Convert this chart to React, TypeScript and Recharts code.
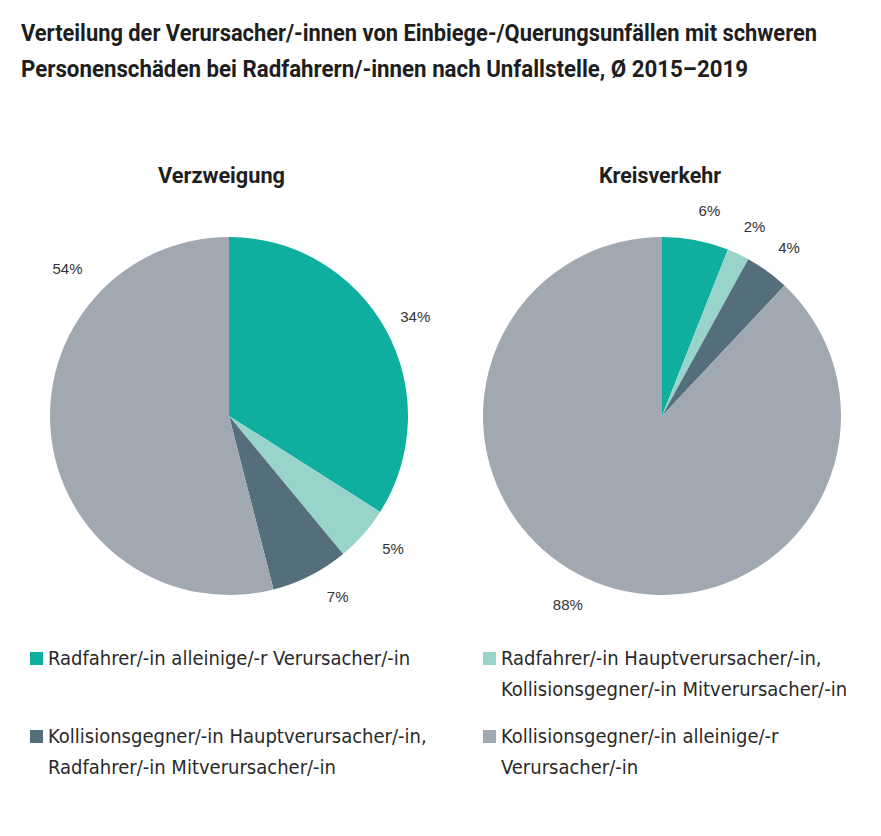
import React from 'react';
import { PieChart, Pie, Cell } from 'recharts';

const categories = [
  'Radfahrer/-in alleinige/-r Verursacher/-in',
  'Radfahrer/-in Hauptverursacher/-in, Kollisionsgegner/-in Mitverursacher/-in',
  'Kollisionsgegner/-in Hauptverursacher/-in, Radfahrer/-in Mitverursacher/-in',
  'Kollisionsgegner/-in alleinige/-r Verursacher/-in',
];
const legendLines = [
  ['Radfahrer/-in alleinige/-r Verursacher/-in'],
  ['Radfahrer/-in Hauptverursacher/-in,', 'Kollisionsgegner/-in Mitverursacher/-in'],
  ['Kollisionsgegner/-in Hauptverursacher/-in,', 'Radfahrer/-in Mitverursacher/-in'],
  ['Kollisionsgegner/-in alleinige/-r', 'Verursacher/-in'],
];
const verzweigungValues = [34, 5, 7, 54];
const kreisverkehrValues = [6, 2, 4, 88];
const colors = ['#10ae9f', '#98d4ca', '#546e7b', '#a0a9b1'];

const titleLines = [
  'Verteilung der Verursacher/-innen von Einbiege-/Querungsunfällen mit schweren',
  'Personenschäden bei Radfahrern/-innen nach Unfallstelle, Ø 2015–2019',
];
const pieTitles = ['Verzweigung', 'Kreisverkehr'];

const verzData = categories.map((name, i) => ({ name, value: verzweigungValues[i] }));
const kreisData = categories.map((name, i) => ({ name, value: kreisverkehrValues[i] }));

// label placement tweaks (style, not data)
const verzLabelAngles: Record<number, number> = { 0: 28, 1: -39, 2: -59, 3: 137.5 };
const kreisLabelAngles: Record<number, number> = { 0: 77, 1: 64, 2: 53, 3: -116.5 };
const verzLabelExtra: Record<number, number> = { 3: 40 };

const RADIAN = Math.PI / 180;

const makeLabel = (angles: Record<number, number>, extra: Record<number, number>) => (props: any) => {
  const { cx, cy, midAngle, outerRadius, value, index } = props;
  const ang = angles[index] !== undefined ? angles[index] : midAngle;
  const r = outerRadius + (extra[index] !== undefined ? extra[index] : 32);
  const x = cx + r * Math.cos(-ang * RADIAN);
  const y = cy + r * Math.sin(-ang * RADIAN);
  return (
    <text
      x={x}
      y={y}
      textAnchor="middle"
      dominantBaseline="central"
      fill="#333"
      fontSize={15}
      fontFamily='"Liberation Sans", Arial, sans-serif'
    >
      {value}%
    </text>
  );
};

export default function App() {
  return (
    <div
      style={{
        position: 'absolute',
        left: 0,
        top: 0,
        width: 881,
        height: 836,
        background: '#fff',
        fontFamily: '"DejaVu Sans Condensed", "DejaVu Sans", sans-serif',
        color: '#222',
      }}
    >
      <svg width={881} height={200} style={{ position: 'absolute', left: 0, top: 0 }}>
        <g fontFamily="Roboto, 'Liberation Sans', sans-serif" fontWeight={700} fill="#1e1e1e">
          <text x={21} y={41} fontSize={23} textLength={796} lengthAdjust="spacingAndGlyphs">
            {titleLines[0]}
          </text>
          <text x={21} y={77} fontSize={23} textLength={727} lengthAdjust="spacingAndGlyphs">
            {titleLines[1]}
          </text>
          <text x={158} y={183} fontSize={22} textLength={127} lengthAdjust="spacingAndGlyphs">
            {pieTitles[0]}
          </text>
          <text x={599} y={183} fontSize={22} textLength={122} lengthAdjust="spacingAndGlyphs">
            {pieTitles[1]}
          </text>
        </g>
      </svg>
      <div style={{ position: 'absolute', left: 0, top: 0 }}>
        <PieChart width={881} height={640} margin={{ top: 0, right: 0, bottom: 0, left: 0 }}>
          <Pie
            data={verzData}
            dataKey="value"
            nameKey="name"
            cx={229}
            cy={416}
            outerRadius={179}
            startAngle={90}
            endAngle={-270}
            stroke="none"
            isAnimationActive={false}
            labelLine={false}
            label={makeLabel(verzLabelAngles, verzLabelExtra)}
          >
            {verzData.map((d, i) => (
              <Cell key={d.name} fill={colors[i]} />
            ))}
          </Pie>
          <Pie
            data={kreisData}
            dataKey="value"
            nameKey="name"
            cx={662}
            cy={416}
            outerRadius={179}
            startAngle={90}
            endAngle={-270}
            stroke="none"
            isAnimationActive={false}
            labelLine={false}
            label={makeLabel(kreisLabelAngles, {})}
          >
            {kreisData.map((d, i) => (
              <Cell key={d.name} fill={colors[i]} />
            ))}
          </Pie>
        </PieChart>
      </div>
      {legendLines.map((lines, i) => {
        const col = i % 2;
        const row = Math.floor(i / 2);
        return (
          <div
            key={i}
            style={{
              position: 'absolute',
              left: col === 0 ? 30 : 483,
              top: row === 0 ? 643 : 721,
              display: 'flex',
              alignItems: 'flex-start',
              fontSize: 20,
              lineHeight: '31px',
              color: '#2a2a2a',
            }}
          >
            <div style={{ width: 13, height: 13, background: colors[i], marginTop: 9, marginRight: 5, flexShrink: 0 }} />
            <div>
              {lines.map((l) => (
                <div key={l} style={{ whiteSpace: 'nowrap' }}>{l}</div>
              ))}
            </div>
          </div>
        );
      })}
    </div>
  );
}
